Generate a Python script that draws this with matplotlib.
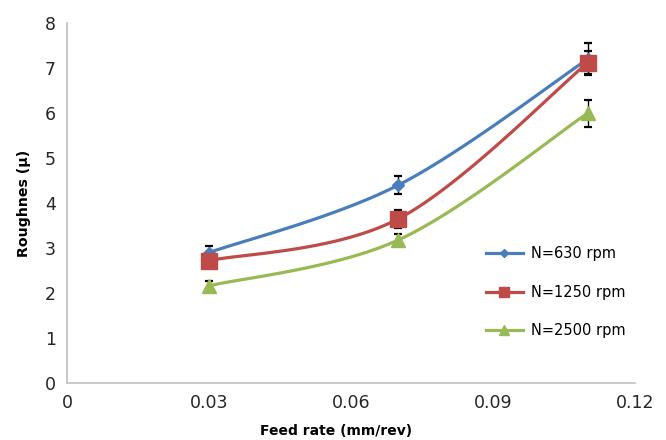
import matplotlib.pyplot as plt
import numpy as np

# feed rate vs surface roughness for three spindle speeds
feed = [0.03, 0.07, 0.11]
labels = ['N=630 rpm', 'N=1250 rpm', 'N=2500 rpm']
rough_630 = [2.9, 4.4, 7.2]
rough_1250 = [2.72, 3.65, 7.12]
rough_2500 = [2.16, 3.18, 6.0]
err_630 = [0.15, 0.2, 0.35]
err_1250 = [0.12, 0.2, 0.26]
err_2500 = [0.11, 0.14, 0.3]

colors = ['#4a7ebb', '#be4b48', '#98b954']
markers = ['D', 's', '^']
msizes = [6.5, 11, 10]
leg_msizes = [4.5, 7.5, 7]

plt.rcParams['font.family'] = ['DejaVu Sans']


def smooth(x, y, n=40):
    # Catmull-Rom style bezier smoothing, like the spreadsheet "smoothed line"
    x = np.asarray(x, float)
    y = np.asarray(y, float)
    px = np.concatenate([[x[0]], x, [x[-1]]])
    py = np.concatenate([[y[0]], y, [y[-1]]])
    xs, ys = [], []
    t = np.linspace(0, 1, n)
    for i in range(1, len(px) - 2):
        p0 = np.array([px[i], py[i]])
        p3 = np.array([px[i + 1], py[i + 1]])
        p1 = p0 + (np.array([px[i + 1], py[i + 1]]) - np.array([px[i - 1], py[i - 1]])) / 6
        p2 = p3 - (np.array([px[i + 2], py[i + 2]]) - np.array([px[i], py[i]])) / 6
        b = (np.outer((1 - t) ** 3, p0) + np.outer(3 * (1 - t) ** 2 * t, p1)
             + np.outer(3 * (1 - t) * t ** 2, p2) + np.outer(t ** 3, p3))
        xs.extend(b[:, 0])
        ys.extend(b[:, 1])
    return xs, ys


fig = plt.figure(figsize=(6.66, 4.4), dpi=100)
ax = fig.add_axes([0.1006, 0.1295, 0.853, 0.818])

series = [rough_630, rough_1250, rough_2500]
errs = [err_630, err_1250, err_2500]
handles = []
for vals, e, c, m, ms, lms, lab in zip(series, errs, colors, markers, msizes, leg_msizes, labels):
    sx, sy = smooth(feed, vals)
    ax.plot(sx, sy, color=c, lw=2.3, zorder=2)
    ax.errorbar(feed, vals, yerr=e, fmt='none', ecolor='black', elinewidth=1,
                capsize=3, capthick=1.6, zorder=3)
    ax.plot(feed, vals, ls='none', marker=m, ms=ms, color=c, zorder=4)
    h, = ax.plot([], [], color=c, lw=2.3, marker=m, ms=lms, label=lab)
    handles.append(h)

ax.set_xlim(0, 0.12)
ax.set_ylim(0, 8)
ax.set_xticks([0, 0.03, 0.06, 0.09, 0.12])
ax.set_xticklabels(['0', '0.03', '0.06', '0.09', '0.12'])
ax.set_yticks(range(9))
ax.tick_params(length=0, labelsize=12.5, colors='#262626', pad=8)
for s in ['top', 'right']:
    ax.spines[s].set_visible(False)
for s in ['left', 'bottom']:
    ax.spines[s].set_color('#c4c4c4')
    ax.spines[s].set_linewidth(1.3)

ax.set_xlabel('Feed rate (mm/rev)', fontsize=10, fontweight='bold')
ax.xaxis.set_label_coords(0.474, -0.113)
ax.set_ylabel('Roughnes (µ)', fontsize=10.2, fontweight='bold', labelpad=10)

ax.legend(handles=handles, loc='center left', bbox_to_anchor=(0.729, 0.336),
          bbox_transform=fig.transFigure, frameon=False, fontsize=10.5,
          labelspacing=1.6, handlelength=2.6, handletextpad=0.55,
          borderaxespad=0, borderpad=0)

fig.savefig('out.png', dpi=100)
